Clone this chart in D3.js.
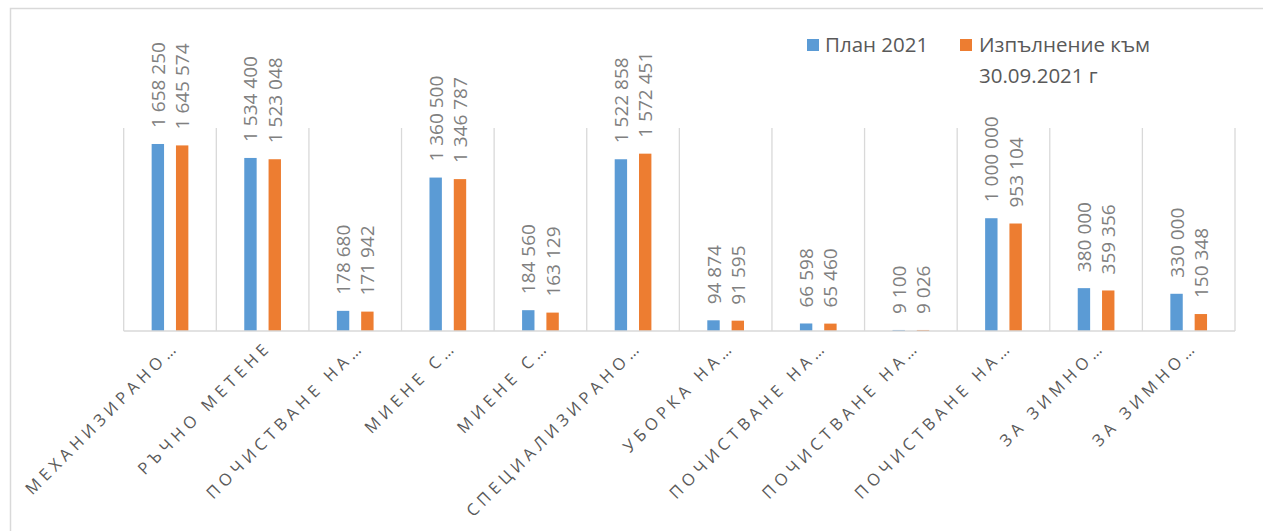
<!DOCTYPE html>
<html>
<head>
<meta charset="utf-8">
<script src="https://cdn.jsdelivr.net/npm/d3@7"></script>
<style>
  body { margin: 0; background: #fff; }
  svg { display: block; font-family: "Open Sans", sans-serif; }
</style>
</head>
<body>
<script>
// categories and the two series
var categories = ["МЕХАНИЗИРАНО…", "РЪЧНО МЕТЕНЕ", "ПОЧИСТВАНЕ НА…", "МИЕНЕ С…", "МИЕНЕ С…",
  "СПЕЦИАЛИЗИРАНО…", "УБОРКА НА…", "ПОЧИСТВАНЕ НА…", "ПОЧИСТВАНЕ НА…", "ПОЧИСТВАНЕ НА…",
  "ЗА ЗИМНО…", "ЗА ЗИМНО…"];
var plan = [1658250, 1534400, 178680, 1360500, 184560, 1522858, 94874, 66598, 9100, 1000000, 380000, 330000];
var actual = [1645574, 1523048, 171942, 1346787, 163129, 1572451, 91595, 65460, 9026, 953104, 359356, 150348];
var seriesNames = ["План 2021", "Изпълнение към 30.09.2021 г"];
var colors = ["#5b9bd5", "#ed7d31"];

var W = 1263, H = 531;
var plotLeft = 123.7, plotRight = 1235, plotTop = 128, base = 331;

var svg = d3.select("body").append("svg")
    .attr("width", W)
    .attr("height", H);

// outer chart border (right/bottom fall outside the window)
svg.append("rect")
    .attr("x", 10.5).attr("y", 8.5)
    .attr("width", W + 20).attr("height", H + 20)
    .attr("fill", "none")
    .attr("stroke", "#d9d9d9")
    .attr("stroke-width", 1.5);

var idx = d3.range(categories.length);
var x0 = d3.scaleBand().domain(idx).range([plotLeft, plotRight]).padding(0);
var x1 = d3.scaleBand().domain([0, 1])
    .range([0, x0.bandwidth()])
    .paddingInner(0.49)
    .paddingOuter(1.15);
var y = d3.scaleLinear().domain([0, 1800000]).range([base, plotTop]);

var fmt = function(v) { return d3.format(",")(v).replace(/,/g, " "); };

// vertical separators between categories
var seps = idx.map(function(i) { return x0(i); }).concat([plotRight]);
svg.selectAll("line.sep")
    .data(seps)
    .enter().append("line")
    .attr("class", "sep")
    .attr("x1", function(d) { return d; })
    .attr("x2", function(d) { return d; })
    .attr("y1", plotTop).attr("y2", base)
    .attr("stroke", "#d9d9d9")
    .attr("stroke-width", 1.3);

// bars
var data = [];
idx.forEach(function(i) {
  data.push({ i: i, s: 0, v: plan[i] });
  data.push({ i: i, s: 1, v: actual[i] });
});

svg.selectAll("rect.bar")
    .data(data)
    .enter().append("rect")
    .attr("class", "bar")
    .attr("x", function(d) { return x0(d.i) + x1(d.s); })
    .attr("width", x1.bandwidth())
    .attr("y", function(d) { return y(d.v); })
    .attr("height", function(d) { return base - y(d.v); })
    .attr("fill", function(d) { return colors[d.s]; });

// baseline
svg.append("line")
    .attr("x1", plotLeft).attr("x2", plotRight)
    .attr("y1", base).attr("y2", base)
    .attr("stroke", "#d9d9d9")
    .attr("stroke-width", 1.5);

// value labels, rotated
svg.selectAll("text.val")
    .data(data)
    .enter().append("text")
    .attr("class", "val")
    .attr("transform", function(d) {
      var cx = x0(d.i) + x1(d.s) + x1.bandwidth() / 2 + 7;
      return "translate(" + cx + "," + (y(d.v) - 16) + ") rotate(-90)";
    })
    .attr("font-size", 19)
    .attr("fill", "#808080")
    .text(function(d) { return fmt(d.v); });

// category labels at -45 degrees
svg.selectAll("text.cat")
    .data(idx)
    .enter().append("text")
    .attr("class", "cat")
    .attr("transform", function(i) {
      var cx = x0(i) + x0.bandwidth() / 2 + 10;
      return "translate(" + cx + "," + (base + 17) + ") rotate(-45)";
    })
    .attr("text-anchor", "end")
    .attr("font-size", 16.5)
    .attr("letter-spacing", 4.6)
    .attr("fill", "#595959")
    .text(function(i) { return categories[i]; });

// legend
var legend = svg.append("g");
var lx = [807, 960];
legend.selectAll("rect")
    .data(colors)
    .enter().append("rect")
    .attr("x", function(d, i) { return lx[i]; })
    .attr("y", 39)
    .attr("width", 12).attr("height", 12)
    .attr("fill", function(d) { return d; });

legend.append("text")
    .attr("x", 825).attr("y", 52)
    .attr("font-size", 20.5).attr("fill", "#595959")
    .text(seriesNames[0]);

var t2 = legend.append("text")
    .attr("font-size", 20.5).attr("fill", "#595959");
t2.append("tspan").attr("x", 979).attr("y", 52).text("Изпълнение към");
t2.append("tspan").attr("x", 979).attr("y", 83).text("30.09.2021 г");
</script>
</body>
</html>
